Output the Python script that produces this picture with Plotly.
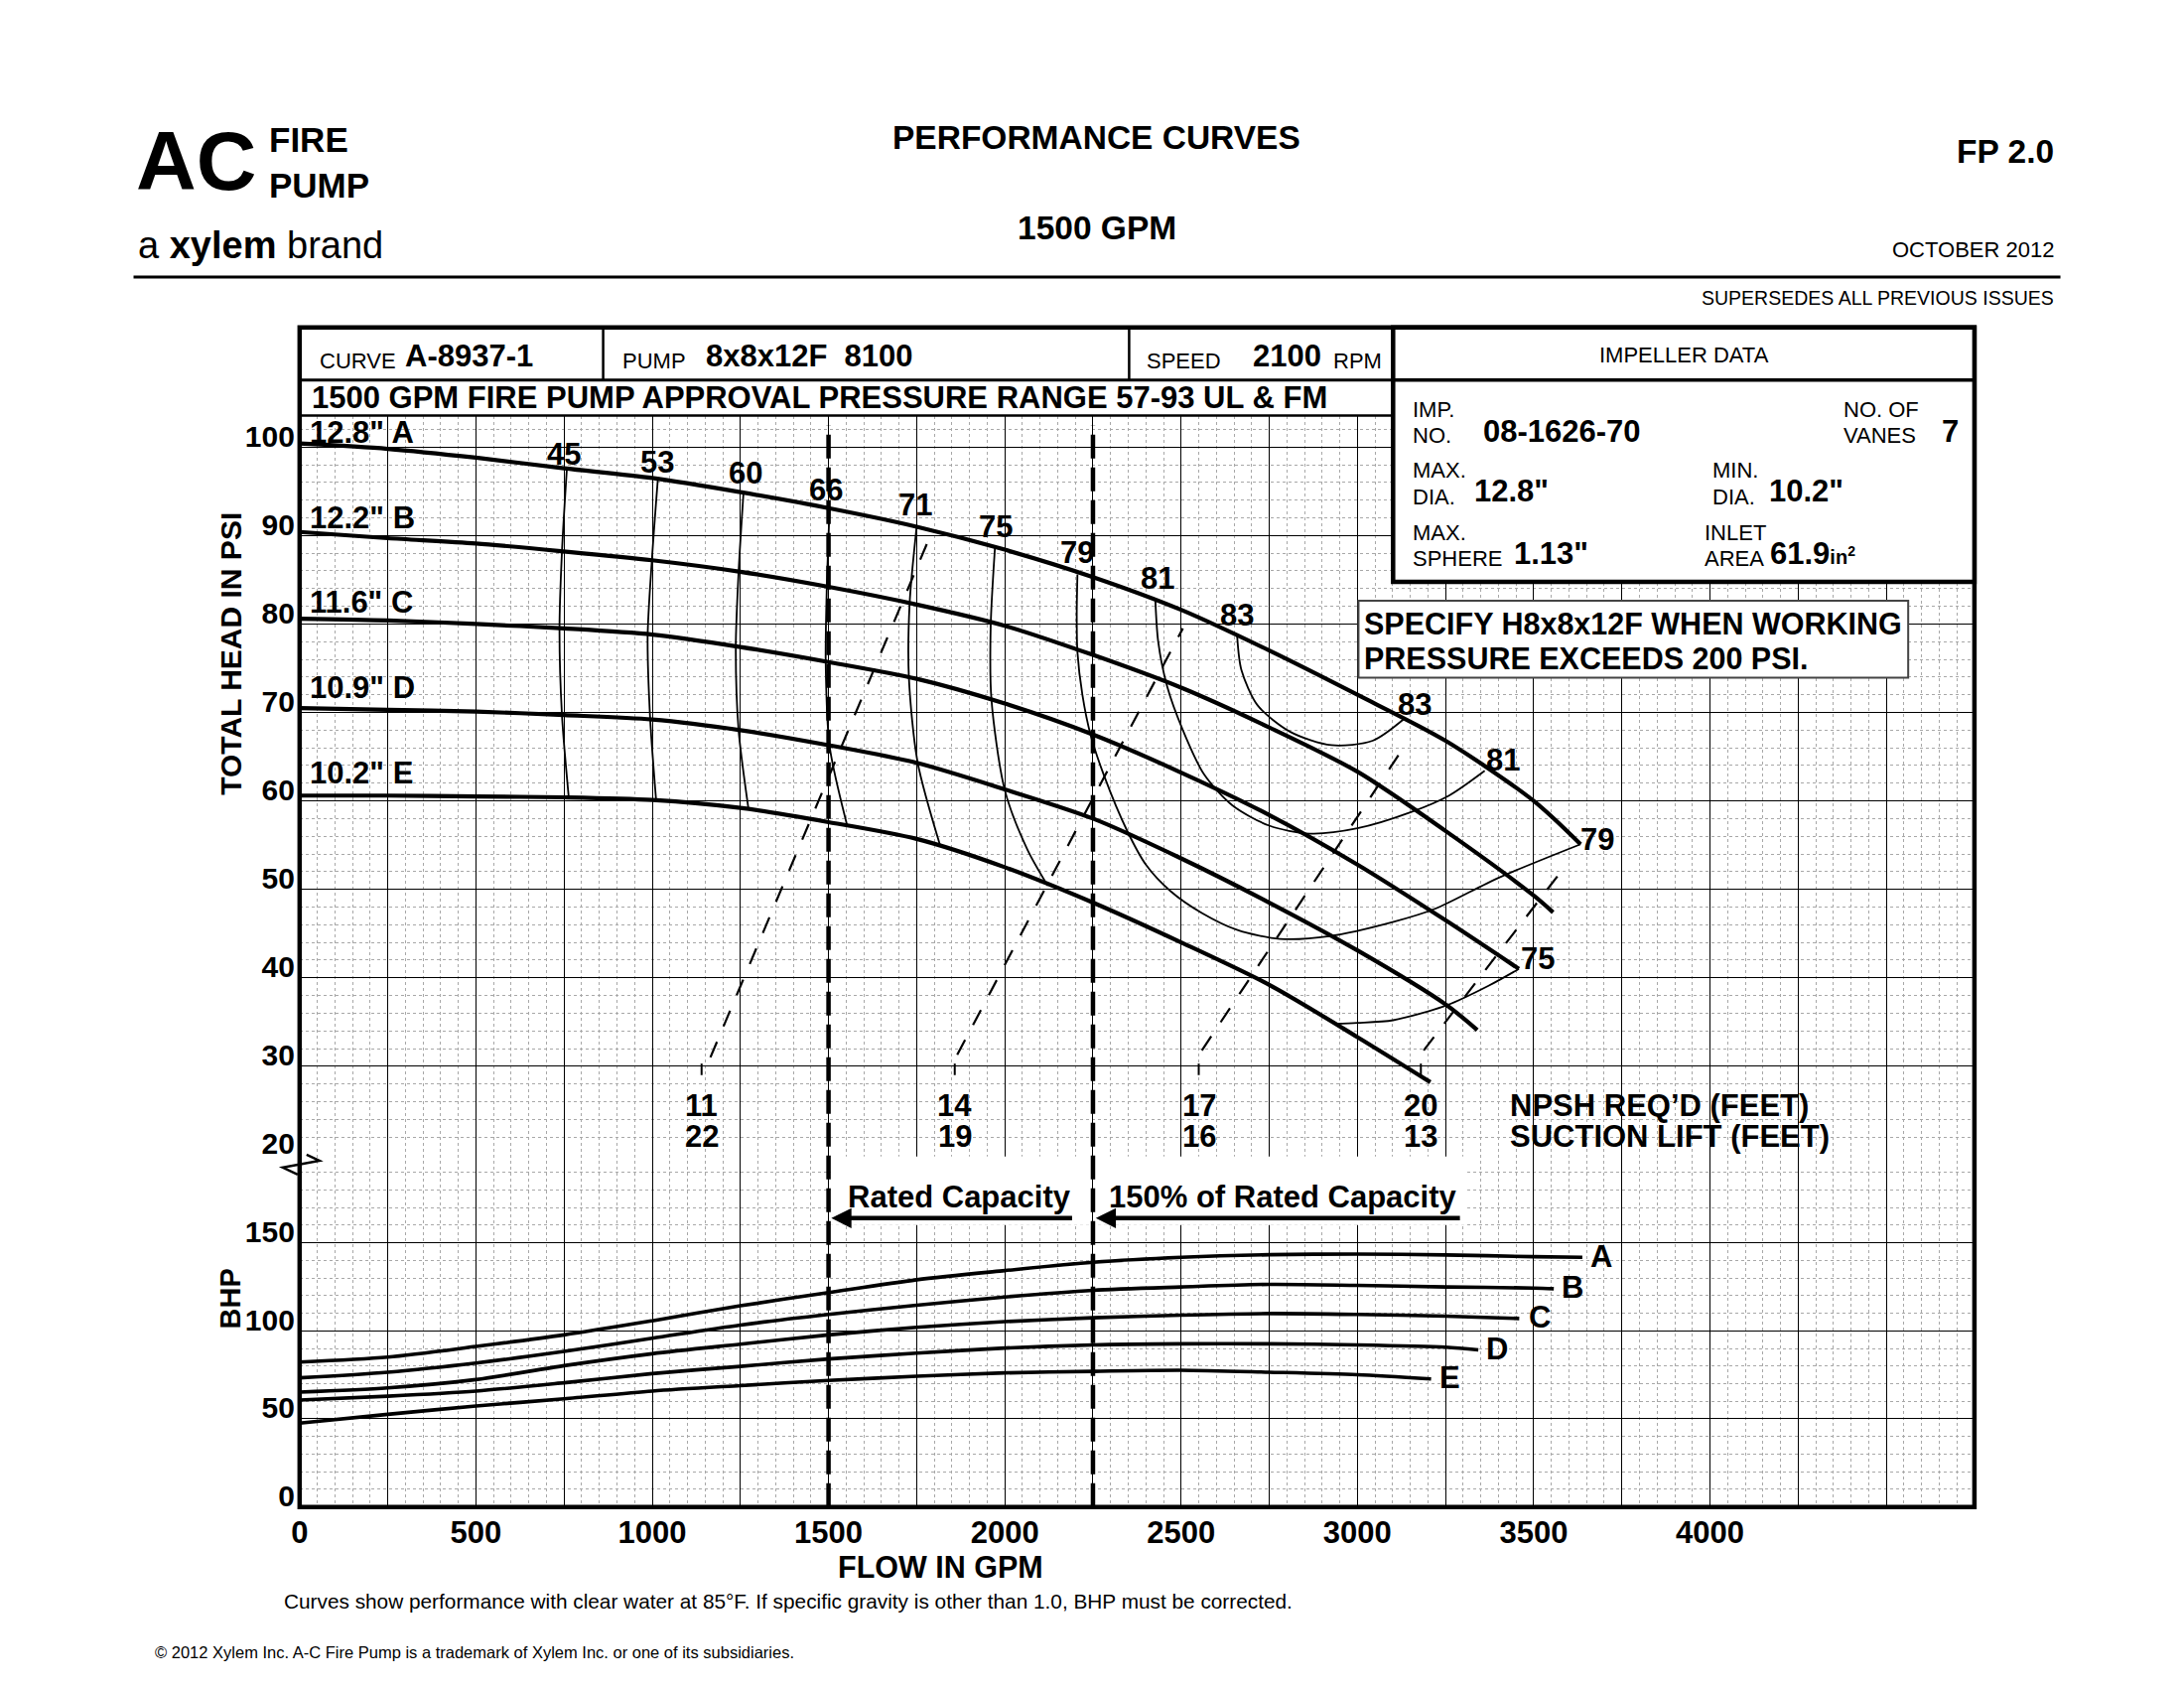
"""
plot.py — A-C Fire Pump 8x8x12F performance curve (1500 GPM, 2100 RPM)
Head / efficiency / NPSH on the upper grid, BHP on the lower grid.
"""
import plotly.graph_objects as go

W, H = 2200, 1700
OFF = 8   # the page body margin shifts the figure by this much

ARIAL = 'Liberation Sans, Arial, Helvetica, sans-serif'

# page pixels of the chart frame
LEFT, RIGHT = 294, 1988
TABLE_TOP, ROW1_BOTTOM, GRID_TOP = 331, 384, 420
SPLIT, BOTTOM = 1167, 1523          # head 20 psi == 200 BHP line
IMP_LEFT, IMP_BOTTOM = 1400, 588

FLOW_RANGE = [0, 4750]
HEAD_RANGE = [20, 103.56]
BHP_RANGE = [0, 200]

X_TICKS = [0, 250, 500, 750, 1000, 1250, 1500, 1750, 2000, 2250, 2500, 2750,
           3000, 3250, 3500, 3750, 4000, 4250, 4500, 4750]
X_TICK_TEXT = ['0', '', '500', '', '1000', '', '1500', '', '2000', '', '2500', '',
               '3000', '', '3500', '', '4000', '', '', '']
HEAD_TICKS = [20, 30, 40, 50, 60, 70, 80, 90, 100]
HEAD_TICK_TEXT = ['20', '30', '40', '50', '60', '70', '80', '90', '100']
BHP_TICKS = [0, 50, 100, 150, 200]
BHP_TICK_TEXT = ['0', '50', '100', '150', '']

# ---- head-capacity curves (psi) ----
Q_STEP = [0, 250, 500, 750, 1000, 1250, 1500, 1750, 2000, 2250, 2500, 2750, 3000, 3250, 3500]
HEAD_A_Q = Q_STEP + [3633]
HEAD_A = [100.4, 99.8, 98.8, 97.6, 96.5, 94.9, 93.1, 91.0, 88.4, 85.3, 81.6, 77.0, 72.0, 66.8, 60.0, 55.1]
HEAD_B_Q = Q_STEP + [3555]
HEAD_B = [90.4, 89.7, 89.1, 88.2, 87.2, 85.9, 84.2, 82.2, 79.8, 76.5, 72.8, 68.3, 63.3, 56.6, 49.3, 47.4]
HEAD_C_Q = Q_STEP[:14] + [3458]
HEAD_C = [80.6, 80.4, 80.0, 79.5, 78.8, 77.4, 75.7, 73.8, 71.0, 67.5, 63.2, 58.4, 52.8, 46.5, 41.0]
HEAD_D_Q = Q_STEP[:14] + [3340]
HEAD_D = [70.5, 70.3, 70.1, 69.7, 69.2, 68.0, 66.3, 64.3, 61.3, 58.0, 53.5, 48.5, 43.1, 37.0, 34.1]
HEAD_E_Q = Q_STEP[:13] + [3207]
HEAD_E = [60.6, 60.6, 60.5, 60.4, 60.1, 59.2, 57.6, 55.7, 52.5, 48.5, 44.0, 39.2, 33.3, 28.2]

IMPELLER_DIA = ['12.8" A', '12.2" B', '11.6" C', '10.9" D', '10.2" E']
IMPELLER_LABEL_H = [101.7, 92.0, 82.5, 72.8, 63.1]

# ---- iso-efficiency lines (%) ----
EFF45_Q = [758, 744, 737, 744, 763]
EFF45_H = [97.6, 88.2, 79.4, 69.7, 60.5]
EFF53_Q = [1016, 999, 987, 994, 1011]
EFF53_H = [96.4, 87.2, 78.6, 69.4, 60.1]
EFF60_Q = [1259, 1245, 1237, 1245, 1273]
EFF60_H = [94.9, 85.9, 77.3, 68.0, 59.1]
EFF66_Q = [1503, 1495, 1492, 1503, 1553]
EFF66_H = [93.0, 84.0, 75.6, 66.2, 57.2]
EFF71_Q = [1750, 1730, 1728, 1753, 1817]
EFF71_H = [91.0, 82.3, 73.9, 64.3, 54.9]
EFF75_Q = [1972, 1960, 1962, 2000, 2064, 2122]
EFF75_H = [88.6, 79.8, 71.5, 61.2, 54.5, 50.4]
EFF75B_Q = [2936, 3000, 3101, 3254, 3372, 3458]
EFF75B_H = [34.8, 34.9, 35.2, 36.9, 39.1, 41.0]
EFF79_Q = [2206, 2204, 2206, 2220, 2243, 2282, 2346, 2400, 2470, 2560, 2660, 2780,
           2920, 3100, 3220, 3400, 3633]
EFF79_H = [85.6, 81.0, 76.8, 72.0, 67.5, 62.8, 56.7, 52.8, 49.8, 47.3, 45.4, 44.4,
           44.7, 46.3, 47.8, 51.3, 55.1]
EFF81_Q = [2427, 2435, 2460, 2505, 2565, 2645, 2750, 2865, 3000, 3150, 3260, 3361]
EFF81_H = [82.7, 78.0, 73.0, 68.0, 63.0, 59.5, 57.2, 56.3, 56.9, 58.7, 60.6, 63.4]
EFF83_Q = [2659, 2671, 2717, 2810, 2926, 3043, 3133]
EFF83_H = [78.6, 74.8, 70.8, 67.8, 66.3, 66.8, 69.3]

EFF_LABELS = ['45', '53', '60', '66', '71', '75', '79', '81', '83', '83', '81', '79', '75']
EFF_LABEL_Q = [748, 1013, 1264, 1494, 1747, 1974, 2204, 2434, 2659, 3163, 3413, 3679, 3511]
EFF_LABEL_H = [99.2, 98.3, 97.0, 95.1, 93.5, 91.0, 88.1, 85.1, 81.0, 70.9, 64.6, 55.6, 42.2]

# ---- NPSH required / suction lift (dashed) ----
NPSH_Q0 = [1165, 1865, 2559, 3188]
NPSH_H0 = [31.0, 31.3, 31.8, 31.8]
NPSH_Q1 = [1790, 2505, 3122, 3585]
NPSH_H1 = [90.1, 79.5, 65.5, 52.4]
NPSH_LABEL_Q = [1140, 1858, 2550, 3180]
NPSH_REQD = ['11', '14', '17', '20']
SUCTION_LIFT = ['22', '19', '16', '13']

RATED_Q = 1500
OVERLOAD_Q = 2250

# ---- brake horsepower ----
BHP_A_Q = Q_STEP + [3638]
BHP_A = [82.3, 85.1, 91.1, 97.7, 105.7, 114.2, 121.7, 129.0, 134.2, 138.9, 141.7, 143.2, 143.6, 143.1, 142.1, 141.7]
BHP_B_Q = Q_STEP + [3557]
BHP_B = [73.3, 76.5, 81.7, 88.3, 95.8, 103.3, 109.3, 114.5, 119.2, 123.0, 124.9, 126.4, 125.8, 124.9, 124.3, 123.9]
BHP_C_Q = Q_STEP[:14] + [3459]
BHP_C = [65.2, 67.6, 72.3, 80.2, 87.0, 92.4, 97.7, 102.0, 105.2, 107.4, 108.9, 109.8, 109.3, 108.3, 107.0]
BHP_D_Q = Q_STEP[:14] + [3343]
BHP_D = [60.7, 62.9, 65.8, 70.5, 75.7, 79.8, 84.0, 87.3, 90.2, 92.0, 92.6, 92.6, 92.0, 90.7, 89.2]
BHP_E_Q = Q_STEP[:13] + [3209]
BHP_E = [47.6, 52.6, 57.3, 61.4, 65.8, 68.9, 71.8, 74.2, 76.1, 77.0, 77.6, 76.5, 75.1, 72.7]

BHP_LETTERS = ['A', 'B', 'C', 'D', 'E']
BHP_LETTER_Q = [3692, 3609, 3516, 3395, 3262]
BHP_LETTER_V = [142.1, 124.7, 107.5, 89.6, 73.2]


def px(x):
    return (x - OFF) / W


def py(y):
    return 1 - (y - OFF) / H


def line_trace(q, v, width, yaxis='y', dash=None):
    return go.Scatter(
        x=q, y=v, mode='lines', yaxis=yaxis, xaxis='x',
        line=dict(color='black', width=width, shape='spline', smoothing=0.8, dash=dash),
        hoverinfo='skip', showlegend=False,
    )


def page_text(x, y, text, size, bold=True, anchor='left', angle=0):
    return dict(
        x=px(x), y=py(y), xref='paper', yref='paper', showarrow=False,
        text=f'<b>{text}</b>' if bold else text, xanchor=anchor, yanchor='middle',
        align=anchor if anchor != 'center' else 'center',
        textangle=angle, font=dict(family=ARIAL, size=size, color='black'),
    )


def data_text(x, y, text, size=31, yref='y', anchor='center'):
    return dict(
        x=x, y=y, xref='x', yref=yref, showarrow=False, text=f'<b>{text}</b>',
        xanchor=anchor, yanchor='middle', font=dict(family=ARIAL, size=size, color='black'),
    )


def page_line(x0, y0, x1, y1, width=3, color='black'):
    return dict(type='line', xref='paper', yref='paper', x0=px(x0), y0=py(y0),
                x1=px(x1), y1=py(y1), line=dict(color=color, width=width), layer='above')


def page_box(x0, y0, x1, y1, width=4, fill=None, color='black'):
    return dict(type='rect', xref='paper', yref='paper', x0=px(x0), y0=py(y0),
                x1=px(x1), y1=py(y1), line=dict(color=color, width=width),
                fillcolor=fill or 'rgba(0,0,0,0)', layer='above')


def build_figure():
    fig = go.Figure()

    # head curves
    for q, v in [(HEAD_A_Q, HEAD_A), (HEAD_B_Q, HEAD_B), (HEAD_C_Q, HEAD_C),
                 (HEAD_D_Q, HEAD_D), (HEAD_E_Q, HEAD_E)]:
        fig.add_trace(line_trace(q, v, 4.2))

    # efficiency lines
    for q, v in [(EFF45_Q, EFF45_H), (EFF53_Q, EFF53_H), (EFF60_Q, EFF60_H),
                 (EFF66_Q, EFF66_H), (EFF71_Q, EFF71_H), (EFF75_Q, EFF75_H),
                 (EFF75B_Q, EFF75B_H), (EFF79_Q, EFF79_H), (EFF81_Q, EFF81_H),
                 (EFF83_Q, EFF83_H)]:
        fig.add_trace(line_trace(q, v, 1.8))

    # NPSH dashed lines + small ticks above their labels
    for q0, h0, q1, h1 in zip(NPSH_Q0, NPSH_H0, NPSH_Q1, NPSH_H1):
        fig.add_trace(line_trace([q0, q1], [h0, h1], 2.2, dash='17px,17px'))
    tick_x, tick_y = [], []
    for q in NPSH_LABEL_Q:
        tick_x += [q, q, None]
        tick_y += [29.0, 30.3, None]
    fig.add_trace(go.Scatter(x=tick_x, y=tick_y, mode='lines', xaxis='x', yaxis='y',
                             line=dict(color='black', width=2), hoverinfo='skip', showlegend=False))

    # BHP curves
    for q, v in [(BHP_A_Q, BHP_A), (BHP_B_Q, BHP_B), (BHP_C_Q, BHP_C),
                 (BHP_D_Q, BHP_D), (BHP_E_Q, BHP_E)]:
        fig.add_trace(line_trace(q, v, 3.6, yaxis='y2'))

    grid = dict(showgrid=True, gridcolor='black', gridwidth=1.4, zeroline=False,
                showline=False, ticks='', fixedrange=True)
    minor_grid = dict(showgrid=True, gridcolor='#a8a8a8', griddash='dot', gridwidth=1, ticks='')
    tick_font = dict(family=ARIAL, size=30, color='black', weight='bold')

    fig.update_layout(
        width=W, height=H,
        margin=dict(l=0, r=0, t=0, b=0),
        paper_bgcolor='white', plot_bgcolor='white',
        showlegend=False,
        xaxis=dict(
            domain=[px(LEFT), px(RIGHT)], range=FLOW_RANGE, anchor='y2',
            tickmode='array', tickvals=X_TICKS, ticktext=X_TICK_TEXT,
            tickfont=dict(tick_font, size=31), ticklabelstandoff=4,
            minor=dict(tickmode='array', tickvals=[v for v in range(0, 4751, 50) if v % 250], **minor_grid),
            **grid,
        ),
        yaxis=dict(
            domain=[py(SPLIT), py(GRID_TOP)], range=HEAD_RANGE, anchor='x',
            tickmode='array', tickvals=HEAD_TICKS, ticktext=HEAD_TICK_TEXT,
            tickfont=tick_font, ticklabelshift=-11, ticklabelstandoff=4,
            minor=dict(tickmode='array', tickvals=[v for v in range(22, 104, 2) if v % 10], **minor_grid),
            **grid,
        ),
        yaxis2=dict(
            domain=[py(BOTTOM), py(SPLIT)], range=BHP_RANGE, anchor='x',
            tickmode='array', tickvals=BHP_TICKS, ticktext=BHP_TICK_TEXT,
            tickfont=tick_font, ticklabelshift=-11, ticklabelstandoff=4,
            minor=dict(tickmode='array', tickvals=[v for v in range(10, 200, 10) if v % 50], **minor_grid),
            **grid,
        ),
    )

    shapes = []
    # white patches behind the capacity captions (cover grid, stay under curves)
    for x0, x1 in [(RATED_Q + 6, OVERLOAD_Q - 6), (OVERLOAD_Q + 6, 3305)]:
        shapes.append(dict(type='rect', xref='x', yref='y2', x0=x0, x1=x1, y0=160, y1=199,
                           fillcolor='white', line=dict(width=0), layer='between'))
    # rated / 150% capacity lines
    for q in [RATED_Q, OVERLOAD_Q]:
        shapes.append(dict(type='line', xref='x', yref='paper', x0=q, x1=q,
                           y0=py(BOTTOM), y1=py(GRID_TOP + 10),
                           line=dict(color='black', width=4.5, dash='24px,9px'), layer='above'))

    # page header rule
    shapes.append(page_line(126, 280, 2075, 280, width=3))
    # table frame and cells
    shapes.append(page_box(LEFT, TABLE_TOP, RIGHT, BOTTOM, width=4.5))
    shapes.append(page_line(LEFT, ROW1_BOTTOM, IMP_LEFT, ROW1_BOTTOM, width=3))
    shapes.append(page_line(LEFT, GRID_TOP, IMP_LEFT, GRID_TOP, width=2.5))
    shapes.append(page_line(601, TABLE_TOP, 601, ROW1_BOTTOM, width=2.5))
    shapes.append(page_line(1133, TABLE_TOP, 1133, ROW1_BOTTOM, width=2.5))
    shapes.append(page_box(IMP_LEFT, TABLE_TOP, RIGHT, IMP_BOTTOM, width=4.5, fill='white'))
    shapes.append(page_line(IMP_LEFT, ROW1_BOTTOM, RIGHT, ROW1_BOTTOM, width=3.5))
    # working-pressure note box
    shapes.append(page_box(1365, 607, 1921, 685, width=2, fill='white', color='#444444'))
    # axis break mark between head and BHP scales
    shapes.append(dict(type='path', xref='paper', yref='paper', layer='above',
                       path=(f'M {px(301)},{py(1167)} L {px(314)},{py(1173)} '
                             f'L {px(277)},{py(1180)} L {px(292)},{py(1187)}'),
                       line=dict(color='black', width=2.5)))
    fig.update_layout(shapes=shapes)

    ann = []
    # logo + page header
    ann.append(page_text(126, 163, 'AC', 84))
    ann.append(page_text(261, 164, 'FIRE<br>PUMP', 35))
    ann.append(page_text(128, 248, 'a <b>xylem</b> brand', 38, bold=False))
    ann.append(page_text(1100, 139, 'PERFORMANCE CURVES', 33.5, anchor='center'))
    ann.append(page_text(1100, 230, '1500 GPM', 33.5, anchor='center'))
    ann.append(page_text(2070, 153, 'FP 2.0', 33.5, anchor='right'))
    ann.append(page_text(2070, 252, 'OCTOBER 2012', 22, bold=False, anchor='right'))
    ann.append(page_text(2070, 301, 'SUPERSEDES ALL PREVIOUS ISSUES', 19.5, bold=False, anchor='right'))

    # table row 1
    ann.append(page_text(312, 365, 'CURVE', 22, bold=False))
    ann.append(page_text(399, 360, 'A-8937-1', 31))
    ann.append(page_text(618, 365, 'PUMP', 22, bold=False))
    ann.append(page_text(703, 360, '8x8x12F\u00a0\u00a08100', 31))
    ann.append(page_text(1149, 365, 'SPEED', 22, bold=False))
    ann.append(page_text(1256, 360, '2100', 31))
    ann.append(page_text(1337, 365, 'RPM', 22, bold=False))
    ann.append(page_text(1694, 359, 'IMPELLER DATA', 22, bold=False, anchor='center'))
    ann.append(page_text(304, 402, '1500 GPM FIRE PUMP APPROVAL PRESSURE RANGE 57-93 UL &amp; FM', 31))

    # impeller data box
    for x, y, t in [(1418, 414, 'IMP.'), (1418, 440, 'NO.'), (1854, 414, 'NO. OF'),
                    (1854, 440, 'VANES'), (1418, 475, 'MAX.'), (1418, 502, 'DIA.'),
                    (1721, 475, 'MIN.'), (1721, 502, 'DIA.'), (1418, 538, 'MAX.'),
                    (1418, 564, 'SPHERE'), (1713, 538, 'INLET'), (1713, 564, 'AREA')]:
        ann.append(page_text(x, y, t, 22, bold=False))
    ann.append(page_text(1489, 436, '08-1626-70', 31))
    ann.append(page_text(1953, 436, '7', 31))
    ann.append(page_text(1480, 496, '12.8"', 31))
    ann.append(page_text(1778, 496, '10.2"', 31))
    ann.append(page_text(1520, 559, '1.13"', 31))
    ann.append(page_text(1779, 559, "61.9<span style='font-size:20px'>in<sup>2</sup></span>", 31))

    # note box
    ann.append(page_text(1369, 630, 'SPECIFY H8x8x12F WHEN WORKING', 30.5))
    ann.append(page_text(1369, 665, 'PRESSURE EXCEEDS 200 PSI.', 30.5))

    # axis titles and footnotes
    ann.append(page_text(225, 661, 'TOTAL HEAD IN PSI', 30, angle=-90, anchor='center'))
    ann.append(page_text(224, 1313, 'BHP', 29, angle=-90, anchor='center'))
    ann.append(page_text(942, 1584, 'FLOW IN GPM', 30.5, anchor='center'))
    ann.append(page_text(276, 1618, 'Curves show performance with clear water at 85°F. '
                                    'If specific gravity is other than 1.0, BHP must be corrected.',
                         20.8, bold=False))
    ann.append(page_text(146, 1670, '© 2012 Xylem Inc. A-C Fire Pump is a trademark of Xylem Inc. '
                                    'or one of its subsidiaries.', 16.5, bold=False))

    # curve labels
    for t, h in zip(IMPELLER_DIA, IMPELLER_LABEL_H):
        ann.append(data_text(22, h, t, anchor='left'))
    for t, q, h in zip(EFF_LABELS, EFF_LABEL_Q, EFF_LABEL_H):
        ann.append(data_text(q, h, t))
    for q, a, b in zip(NPSH_LABEL_Q, NPSH_REQD, SUCTION_LIFT):
        ann.append(data_text(q, 25.6, a))
        ann.append(data_text(q, 22.1, b))
    ann.append(data_text(3427, 25.6, 'NPSH REQ’D (FEET)', anchor='left'))
    ann.append(data_text(3427, 22.1, 'SUCTION LIFT (FEET)', anchor='left'))
    for t, q, v in zip(BHP_LETTERS, BHP_LETTER_Q, BHP_LETTER_V):
        ann.append(data_text(q, v, t, yref='y2'))

    # capacity captions with arrows
    ann.append(data_text(RATED_Q + 48, 176, 'Rated Capacity', yref='y2', anchor='left'))
    ann.append(data_text(OVERLOAD_Q + 40, 176, '150% of Rated Capacity', yref='y2', anchor='left'))
    for x_tip, x_tail in [(RATED_Q + 8, 2195), (OVERLOAD_Q + 8, 3295)]:
        ann.append(dict(x=x_tip, y=164, ax=x_tail, ay=164, xref='x', yref='y2',
                        axref='x', ayref='y2', text='', showarrow=True, arrowhead=2,
                        arrowsize=0.9, arrowwidth=4.5, arrowcolor='black'))

    fig.update_layout(annotations=ann)
    return fig


if __name__ == '__main__':
    fig = build_figure()
    fig.write_html('out.html')
